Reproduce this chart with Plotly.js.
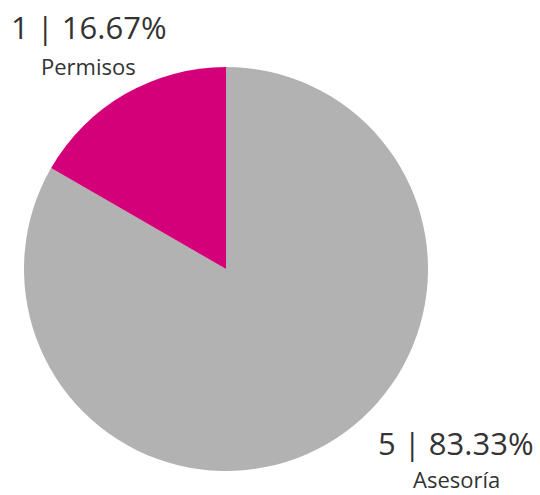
<!DOCTYPE html>
<html>
<head>
<meta charset="utf-8">
<script src="https://cdn.plot.ly/plotly-3.0.1.min.js"></script>
<style>html,body{margin:0;padding:0;background:#fff;}#chart{width:540px;height:495px;}</style>
</head>
<body>
<div id="chart"></div>
<script>
const categories = ["Asesoría", "Permisos"];
const counts = [5, 1];
const colors = ["#B2B2B2", "#D4007A"];

const total = counts.reduce((a, b) => a + b, 0);
const pct = counts.map(v => (v / total * 100).toFixed(2) + "%");

const trace = {
  type: "pie",
  labels: categories,
  values: counts,
  sort: false,
  direction: "clockwise",
  rotation: 0,
  marker: { colors: colors, line: { width: 0 } },
  textinfo: "none",
  hoverinfo: "label+value+percent",
  domain: { x: [24 / 540, 428 / 540], y: [24 / 495, 428 / 495] },
  showlegend: false
};

const font = "Open Sans, sans-serif";
const txtColor = "#333333";
const labelPos = [
  { big: [456, 443], small: [456, 479] },
  { big: [89, 27], small: [88, 66] }
];
const annotations = [];
categories.forEach((c, i) => {
  annotations.push({
    xref: "paper", yref: "paper",
    x: labelPos[i].big[0] / 540, y: 1 - labelPos[i].big[1] / 495,
    xanchor: "center", yanchor: "middle",
    text: counts[i] + " | " + pct[i],
    showarrow: false, borderpad: 0,
    font: { family: font, size: 31, color: txtColor }
  });
  annotations.push({
    xref: "paper", yref: "paper",
    x: labelPos[i].small[0] / 540, y: 1 - labelPos[i].small[1] / 495,
    xanchor: "center", yanchor: "middle",
    text: c,
    showarrow: false, borderpad: 0,
    font: { family: font, size: 22, color: txtColor }
  });
});

const layout = {
  width: 540, height: 495,
  margin: { l: 0, r: 0, t: 0, b: 0 },
  paper_bgcolor: "#ffffff",
  plot_bgcolor: "#ffffff",
  annotations: annotations
};

Plotly.newPlot("chart", [trace], layout, { displayModeBar: false, staticPlot: true });
</script>
</body>
</html>
